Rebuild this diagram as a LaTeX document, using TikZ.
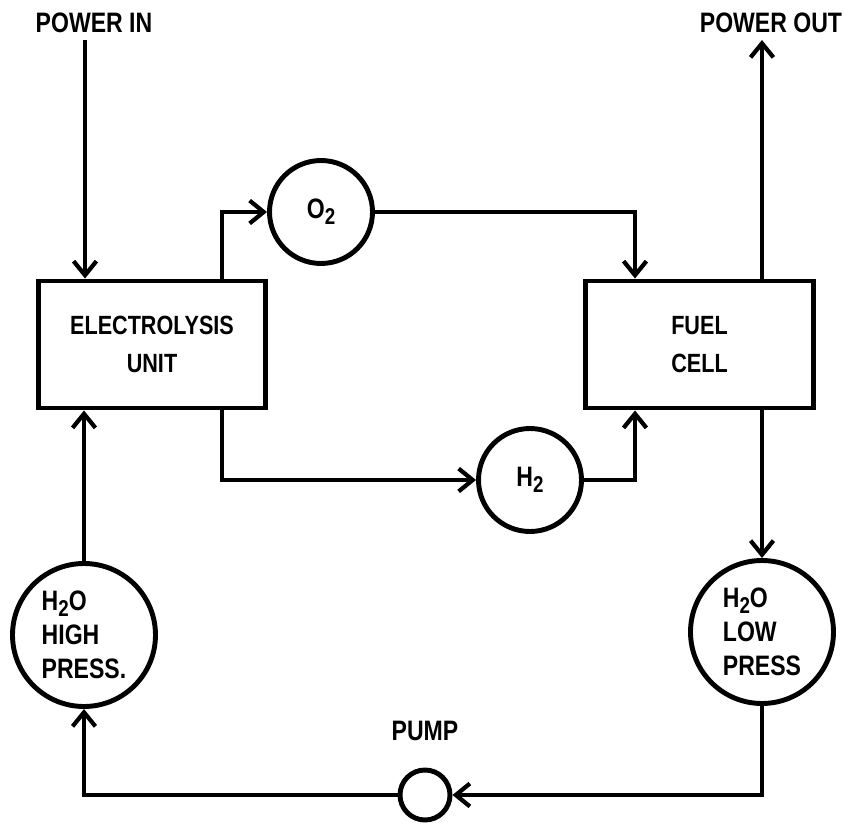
\documentclass[tikz,border=0pt]{standalone}
\usepackage{fontspec}
\newfontfamily\labelfont{Liberation Sans}[FakeStretch=0.82]
\usepackage{tikz}
\usetikzlibrary{arrows.meta, positioning, calc}

\newcommand{\lowtwo}{\raisebox{-0.4ex}{\fontsize{13}{13}\selectfont 2}}

\tikzset{
  flow/.style={line width=2.8pt, -{Straight Barb[length=8pt, width=13pt, line width=2.4pt]}},
  unitbox/.style={draw, line width=2.8pt, minimum width=4.55cm, minimum height=2.54cm,
    align=center, font=\labelfont\bfseries\fontsize{15}{22}\selectfont},
  gasball/.style={draw, circle, line width=2.8pt, minimum size=2.06cm, inner sep=0pt,
    font=\labelfont\bfseries\fontsize{16}{18}\selectfont},
  tankball/.style={draw, circle, line width=2.8pt, minimum size=2.86cm, inner sep=0pt,
    align=left, font=\labelfont\bfseries\fontsize{16}{19.5}\selectfont},
  tag/.style={font=\labelfont\bfseries\fontsize{16}{18}\selectfont}
}

\begin{document}
\begin{tikzpicture}
  \useasboundingbox (0,0) rectangle (16.88,16.44);

  % units
  \node[unitbox] (elec) at (3.04, 9.55) {ELECTROLYSIS\\UNIT};
  \node[unitbox] (cell) at (13.99, 9.55) {FUEL\\CELL};

  % gases and water
  \node[gasball] (oxy) at (6.42, 12.2) {O\lowtwo};
  \node[gasball] (hyd) at (10.6, 6.84) {H\lowtwo};
  \node[tankball] (high) at (1.68, 3.74) {H\lowtwo O\\HIGH\\PRESS.};
  \node[tankball] (low) at (15.24, 3.8) {H\lowtwo O\\LOW\\PRESS};
  \node[draw, circle, line width=2.8pt, minimum size=1.0cm, inner sep=0pt] (pump) at (8.5, 0.54) {};
  \node[tag, above=0.42cm of pump] (pumplabel) {PUMP};

  % power in and out
  \node[tag] (pinlabel) at (1.88, 15.98) {POWER IN};
  \node[tag] (poutlabel) at (15.42, 15.98) {POWER OUT};
  \coordinate (pin) at (1.70, 15.64);
  \coordinate (pout) at (15.24, 15.64);
  \coordinate (lx) at (4.44, 0);
  \coordinate (rx) at (12.7, 0);

  \draw[flow] (pin) -- (pin |- elec.north);
  \draw[flow] (pout |- cell.north) -- (pout);

  % gas lines
  \draw[flow] (lx |- elec.north) |- (oxy.west);
  \draw[flow] (oxy.east) -| (rx |- cell.north);
  \draw[flow] (lx |- elec.south) |- (hyd.west);
  \draw[flow] (hyd.east) -| (rx |- cell.south);

  % water loop
  \draw[flow] (low.north |- cell.south) -- (low.north);
  \draw[flow] (low.south) |- (pump.east);
  \draw[flow] (pump.west) -| (high.south);
  \draw[flow] (high.north) -- (high.north |- elec.south);
\end{tikzpicture}
\end{document}
